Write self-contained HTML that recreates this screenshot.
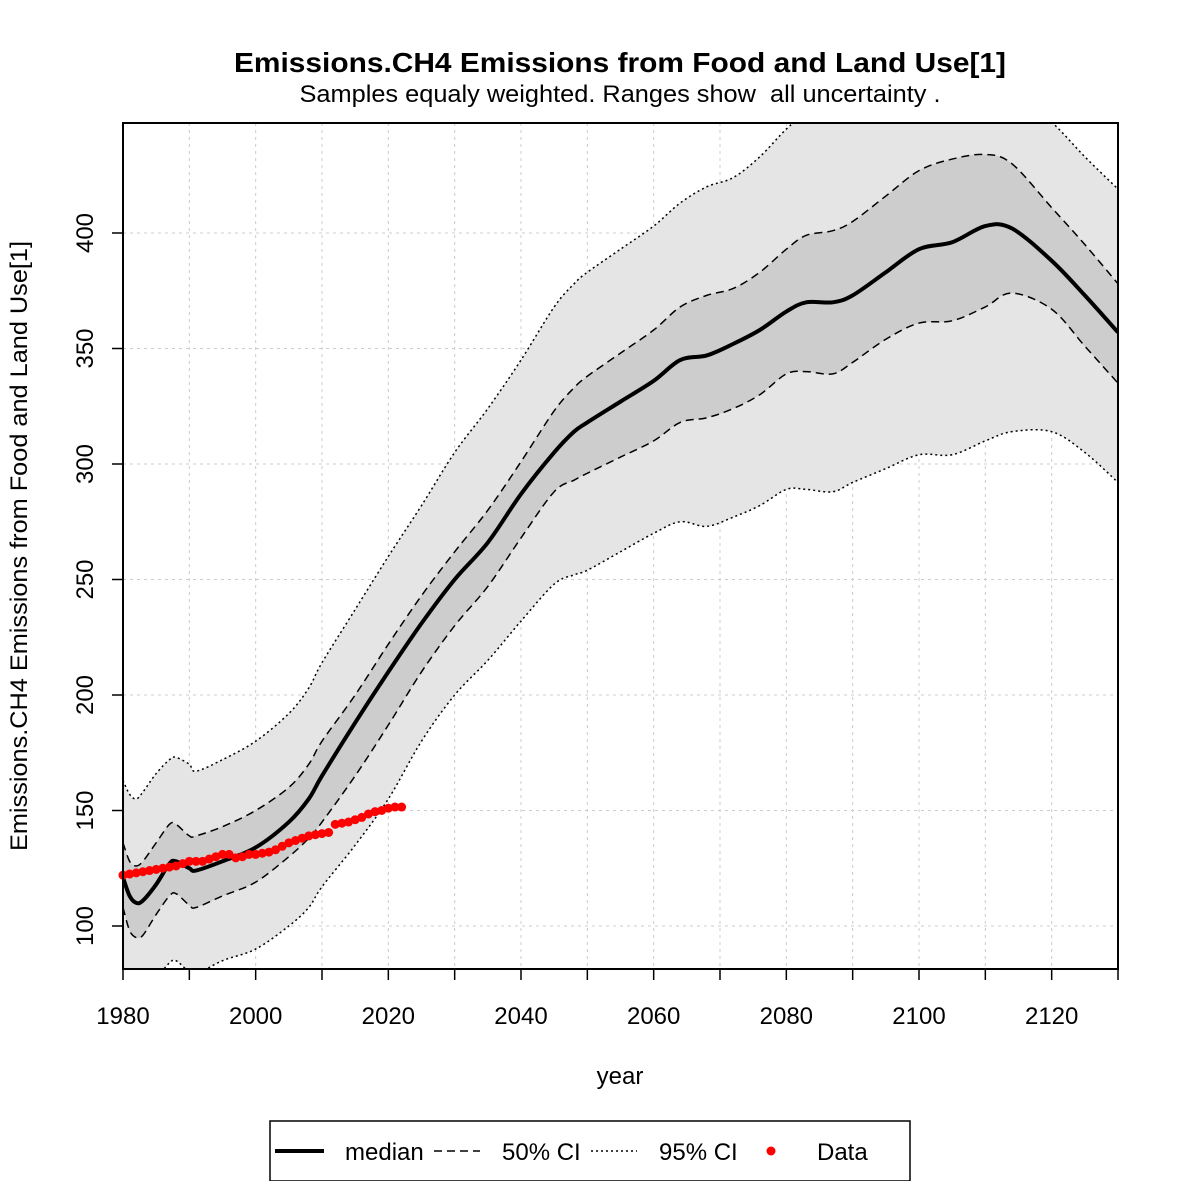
<!DOCTYPE html>
<html><head><meta charset="utf-8"><style>
body{margin:0;background:#fff}
svg{display:block;font-family:"Liberation Sans",Arial,sans-serif}
</style></head><body>
<svg id="chart" width="1181" height="1181" viewBox="0 0 1181 1181">
<rect width="1181" height="1181" fill="#fff"/>
<text x="620" y="72" text-anchor="middle" font-size="28" font-weight="bold" textLength="772" lengthAdjust="spacingAndGlyphs">Emissions.CH4 Emissions from Food and Land Use[1]</text>
<text x="620" y="102" text-anchor="middle" font-size="24" textLength="641" lengthAdjust="spacingAndGlyphs" xml:space="preserve" style="white-space:pre">Samples equaly weighted. Ranges show  all uncertainty .</text>
<defs><clipPath id="pc"><rect x="123" y="123" width="995" height="846"/></clipPath></defs>
<g id="grid"></g>
<g id="bands" clip-path="url(#pc)"></g>
<g id="lines" clip-path="url(#pc)"></g>
<g id="pts"></g>
<rect x="123" y="123" width="995" height="846" fill="none" stroke="#000" stroke-width="2"/>
<g id="axes"></g>
<text x="620" y="1084" text-anchor="middle" font-size="24">year</text>
<text transform="translate(27,546) rotate(-90)" text-anchor="middle" font-size="24" textLength="610" lengthAdjust="spacingAndGlyphs">Emissions.CH4 Emissions from Food and Land Use[1]</text>
<g>
<rect x="270" y="1121" width="640" height="60" fill="#fff" stroke="#000" stroke-width="1.5"/>
<line x1="275" y1="1151" x2="324" y2="1151" stroke="#000" stroke-width="4"/>
<text x="345" y="1160" font-size="24">median</text>
<line x1="434" y1="1151" x2="480" y2="1151" stroke="#000" stroke-width="1.5" stroke-dasharray="8,5"/>
<text x="502" y="1160" font-size="24">50% CI</text>
<line x1="591" y1="1151" x2="637" y2="1151" stroke="#000" stroke-width="1.5" stroke-dasharray="2,3"/>
<text x="659" y="1160" font-size="24">95% CI</text>
<circle cx="771" cy="1151" r="4.5" fill="#f00"/>
<text x="817" y="1160" font-size="24">Data</text>
</g>
</svg>
<script>
const years=[1980,1981,1982,1983,1985,1987,1988,1990,1991,1995,2000,2005,2008,2010,2015,2020,2025,2030,2035,2040,2045,2048,2050,2055,2060,2064,2068,2072,2076,2080,2083,2087,2090,2095,2100,2105,2110,2114,2120,2125,2130];
const median=[121,113,110,111,118,127,128,125,124,128,134,145,155,165,188,210,231,250,266,287,305,314,318,327,336,345,347,352,358,366,370,370,373,383,393,396,403,402,388,373,357];
const upper50=[136,128,126,128,136,144,144,139,139,143,150,160,170,180,200,222,243,262,280,301,323,333,338,348,358,368,373,376,383,393,399,401,405,416,427,432,434,430,411,395,378];
const lower50=[108,98,95,96,105,113,114,109,108,113,119,130,138,145,165,187,210,230,247,268,288,293,296,303,310,318,320,324,330,339,340,339,344,354,361,362,368,374,367,351,335];
const upper95=[163,157,155,158,166,172,173,170,167,172,180,192,203,214,237,260,282,305,324,345,368,378,383,393,403,413,420,424,433,445,452,458,462,470,478,478,472,462,448,433,419];
const lower95=[70,72,74,76,78,84,85,80,79,85,90,100,108,117,135,155,180,200,215,232,248,252,254,262,270,275,273,277,282,289,289,288,292,298,304,304,310,314,314,305,292];
const dataStart=1980;
const dataValues=[122,122.5,123,123.5,124,124.5,125,125.5,126,127,128,128,128,129,130,131,131,129.5,130,131,131,131.5,132,133,134.5,136,137,138,139,139.5,140,140.5,144,144.5,145,146,147,148.5,149.5,150,151,151.5,151.5];
const xTicks=[1980,1990,2000,2010,2020,2030,2040,2050,2060,2070,2080,2090,2100,2110,2120,2130];
const xLabels=[1980,2000,2020,2040,2060,2080,2100,2120];
const yTicks=[100,150,200,250,300,350,400];

const X=y=>123+(y-1980)*(995/150);
const Y=v=>926-(v-100)*2.31;
const NS='http://www.w3.org/2000/svg';
function mk(t,a,p){const e=document.createElementNS(NS,t);for(const k in a)e.setAttribute(k,a[k]);p.appendChild(e);return e;}
function smooth(pts){let d='M'+pts[0][0]+','+pts[0][1];
 for(let i=0;i<pts.length-1;i++){const p0=pts[i-1]||pts[i],p1=pts[i],p2=pts[i+1],p3=pts[i+2]||p2;
  const c1=[p1[0]+(p2[0]-p0[0])/6,p1[1]+(p2[1]-p0[1])/6],c2=[p2[0]-(p3[0]-p1[0])/6,p2[1]-(p3[1]-p1[1])/6];
  d+=' C'+c1+' '+c2+' '+p2;}return d;}
const P=arr=>years.map((y,i)=>[X(y),Y(arr[i])]);
function band(up,lo){const u=P(up),l=P(lo).reverse();return smooth(u)+' L'+l[0]+' '+smooth(l).slice(1)+' Z';}

const grid=document.getElementById('grid');
xTicks.forEach(t=>{const l=mk('line',{x1:X(t),x2:X(t),y1:123,y2:969,stroke:'#ccc','stroke-dasharray':'3,4'},grid);

});
yTicks.forEach(t=>{const l=mk('line',{x1:123,x2:1118,y1:Y(t),y2:Y(t),stroke:'#ccc','stroke-dasharray':'3,4'},grid);

});

const bands=document.getElementById('bands');
const b95=mk('path',{d:band(upper95,lower95),fill:'#e5e5e5'},bands);


const b50=mk('path',{d:band(upper50,lower50),fill:'#cdcdcd'},bands);



const lines=document.getElementById('lines');
[[upper95,'2,3','line-upper-95'],[lower95,'2,3','line-lower-95'],[upper50,'8,5','line-upper-50'],[lower50,'8,5','line-lower-50']].forEach(([a,da,n])=>{
 const e=mk('path',{d:smooth(P(a)),fill:'none',stroke:'#000','stroke-width':1.5,'stroke-dasharray':da},lines);
 
 });
const med=mk('path',{d:smooth(P(median)),fill:'none',stroke:'#000','stroke-width':4},lines);



const pts=document.getElementById('pts');
dataValues.forEach((v,i)=>{const c=mk('circle',{cx:X(dataStart+i),cy:Y(v),r:4.5,fill:'#f00'},pts);

});

const axes=document.getElementById('axes');
xTicks.forEach(t=>{const l=mk('line',{x1:X(t),x2:X(t),y1:969,y2:980,stroke:'#000','stroke-width':1.5},axes);

});
xLabels.forEach(t=>{const e=mk('text',{x:X(t),y:1024,'text-anchor':'middle','font-size':24},axes);e.textContent=t;

});
yTicks.forEach(t=>{const l=mk('line',{x1:112,x2:123,y1:Y(t),y2:Y(t),stroke:'#000','stroke-width':1.5},axes);


const e=mk('text',{transform:'translate(93,'+Y(t)+') rotate(-90)','text-anchor':'middle','font-size':24},axes);e.textContent=t;

});
</script>
</body></html>
